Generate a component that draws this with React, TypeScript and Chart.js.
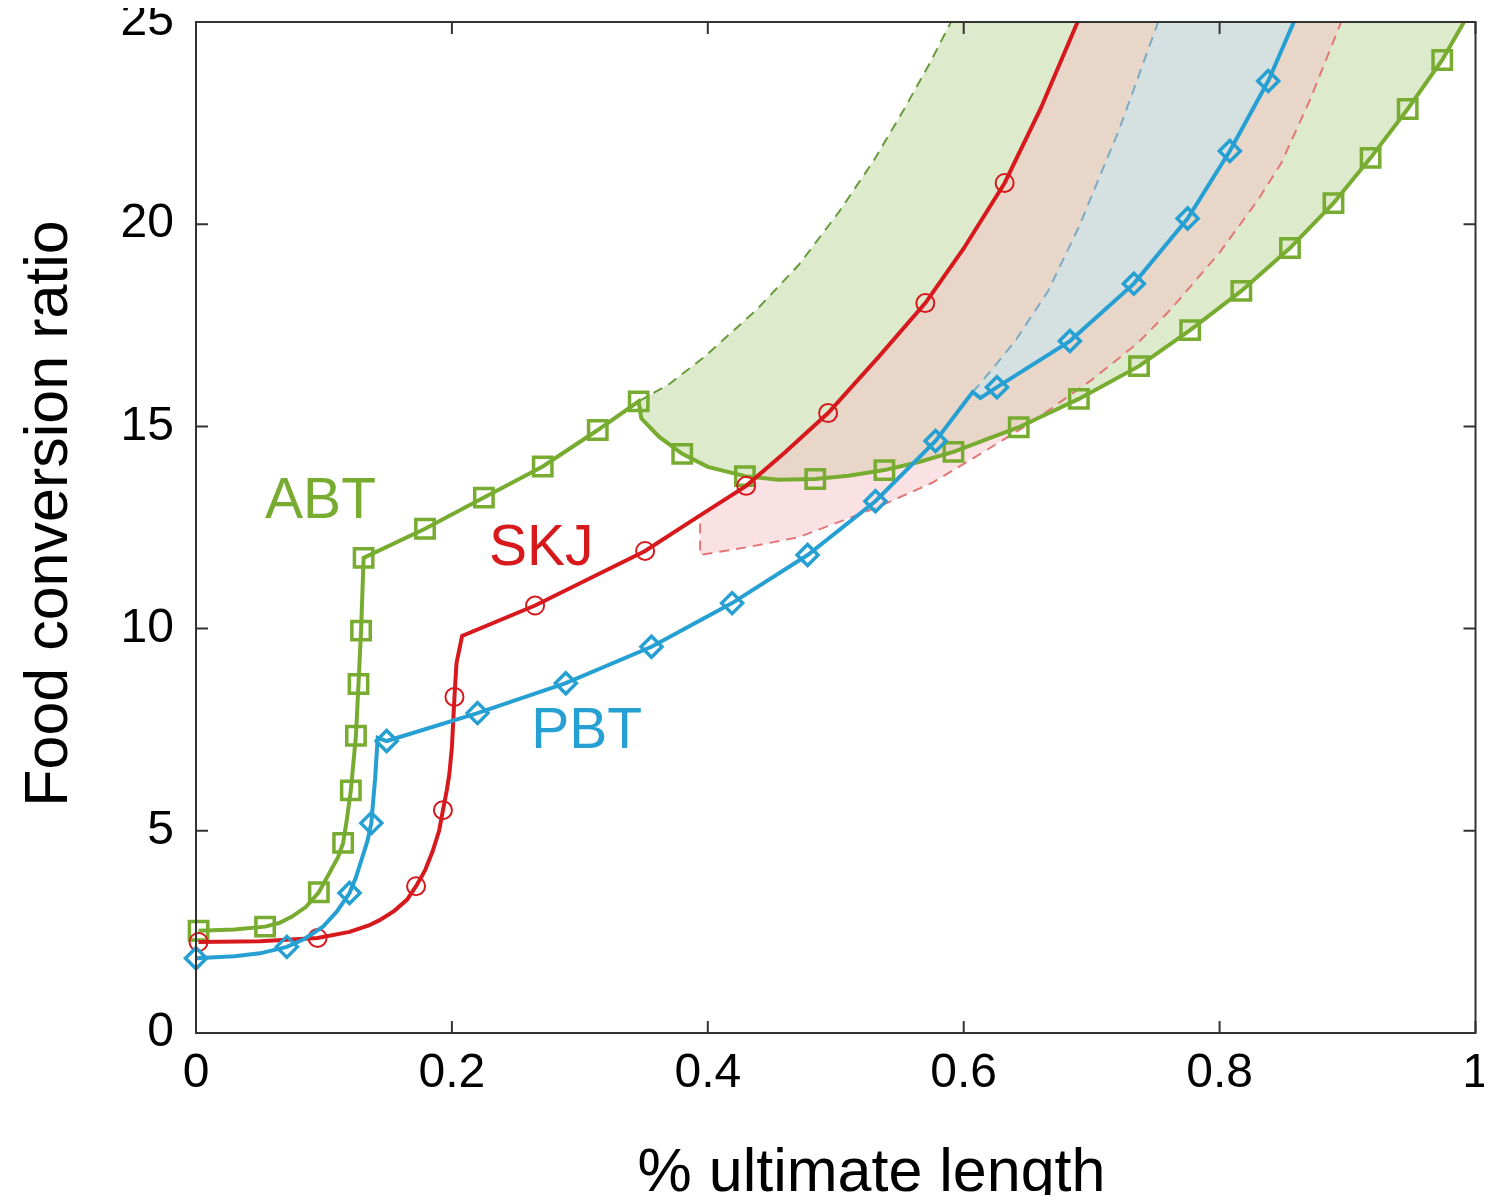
import React, { useEffect, useRef } from 'react';
import { Chart, registerables } from 'chart.js';

Chart.register(...registerables);

// ---------- data ----------
const xTickValues = [0, 0.2, 0.4, 0.6, 0.8, 1];
const xTickLabels = ['0', '0.2', '0.4', '0.6', '0.8', '1'];
const yTickValues = [0, 5, 10, 15, 20, 25];
const yTickLabels = ['0', '5', '10', '15', '20', '25'];

// ABT (green, squares); abtMark = 1 where a marker is drawn
const abtX = [0.002, 0.03, 0.054, 0.065, 0.075, 0.086, 0.096, 0.105, 0.111, 0.115, 0.118, 0.121, 0.125, 0.127, 0.129, 0.131, 0.179, 0.225, 0.271, 0.314, 0.346, 0.348, 0.362, 0.38, 0.4, 0.429, 0.455, 0.484, 0.51, 0.538, 0.565, 0.592, 0.643, 0.69, 0.737, 0.777, 0.817, 0.855, 0.889, 0.918, 0.947, 0.974, 0.991];
const abtY = [2.53, 2.56, 2.63, 2.72, 2.88, 3.12, 3.48, 4.0, 4.35, 4.7, 5.3, 6.0, 7.35, 8.63, 9.95, 11.75, 12.47, 13.24, 14.01, 14.91, 15.62, 15.2, 14.74, 14.32, 14.0, 13.77, 13.68, 13.7, 13.78, 13.92, 14.12, 14.37, 14.98, 15.68, 16.49, 17.38, 18.35, 19.41, 20.52, 21.64, 22.85, 24.06, 25];
const abtMark = [1, 0, 1, 0, 0, 0, 1, 0, 0, 1, 0, 1, 1, 1, 1, 1, 1, 1, 1, 1, 1, 0, 0, 1, 0, 1, 0, 1, 0, 1, 0, 1, 1, 1, 1, 1, 1, 1, 1, 1, 1, 1, 0];

// SKJ (red, circles)
const skjX = [0.002, 0.05, 0.095, 0.12, 0.135, 0.1435, 0.155, 0.165, 0.172, 0.179, 0.185, 0.19, 0.193, 0.196, 0.198, 0.2, 0.202, 0.2036, 0.208, 0.265, 0.351, 0.394, 0.43, 0.46, 0.494, 0.533, 0.57, 0.6, 0.632, 0.66, 0.689];
const skjY = [2.25, 2.27, 2.35, 2.5, 2.66, 2.79, 3.02, 3.3, 3.63, 4.02, 4.5, 5.0, 5.51, 6.0, 6.4, 7.07, 8.31, 9.15, 9.82, 10.57, 11.92, 12.8, 13.53, 14.35, 15.33, 16.7, 18.05, 19.4, 21.02, 22.85, 25];
const skjMark = [1, 0, 1, 0, 0, 0, 0, 0, 1, 0, 0, 0, 1, 0, 0, 0, 1, 0, 0, 1, 1, 0, 1, 0, 1, 0, 1, 0, 1, 0, 0];

// PBT (blue, diamonds)
const pbtX = [0.0, 0.03, 0.05, 0.071, 0.085, 0.099, 0.11, 0.12, 0.125, 0.13, 0.134, 0.137, 0.14, 0.142, 0.149, 0.22, 0.289, 0.356, 0.419, 0.478, 0.531, 0.578, 0.607, 0.613, 0.626, 0.683, 0.733, 0.775, 0.808, 0.838, 0.858];
const pbtY = [1.85, 1.9, 1.97, 2.13, 2.33, 2.62, 3.0, 3.46, 3.85, 4.35, 4.75, 5.19, 6.3, 7.3, 7.22, 7.91, 8.65, 9.55, 10.63, 11.82, 13.15, 14.64, 15.85, 15.7, 15.97, 17.11, 18.53, 20.14, 21.81, 23.54, 25];
const pbtMark = [1, 0, 0, 1, 0, 0, 0, 1, 0, 0, 0, 1, 0, 0, 1, 1, 1, 1, 1, 1, 1, 1, 0, 0, 1, 1, 1, 1, 1, 1, 0];

// dashed band edges
const abtEdgeX = [0.346, 0.37, 0.397, 0.438, 0.471, 0.502, 0.53, 0.553, 0.574, 0.59];
const abtEdgeY = [15.62, 16.05, 16.71, 17.88, 18.99, 20.28, 21.59, 22.82, 24.01, 25];
const skjEdgeX = [0.394, 0.394, 0.432, 0.471, 0.531, 0.575, 0.614, 0.653, 0.7, 0.736, 0.762, 0.8, 0.83, 0.848, 0.871, 0.895];
const skjEdgeY = [12.6, 11.82, 12.02, 12.26, 12.98, 13.6, 14.34, 15.1, 16.15, 17.06, 17.9, 19.3, 20.6, 21.5, 23.1, 25];
const pbtEdgeX = [0.607, 0.614, 0.64, 0.666, 0.69, 0.7, 0.721, 0.752];
const pbtEdgeY = [15.85, 16.1, 17.1, 18.35, 19.93, 20.7, 22.3, 25];

// band starts (x where each band begins on its species curve)
const abtBandStart = 0.346;
const skjBandStart = 0.394;
const pbtBandStart = 0.607;

// in-plot labels
const labelNames = ['ABT', 'SKJ', 'PBT'];
const labelX = [0.054, 0.229, 0.262];
const labelY = [12.73, 11.57, 7.05];

const xTitle = '% ultimate length';
const yTitle = 'Food conversion ratio';

// ---------- styles ----------
const GREEN = 'rgb(119,172,48)';
const RED = 'rgb(215,25,30)';
const BLUE = 'rgb(38,160,210)';
const labelColors = [GREEN, RED, BLUE];
const FONT = '"Liberation Sans", Arial, Helvetica, sans-serif';
const AXIS = '#333333';

type P = { x: number; y: number };
const pts = (xs: number[], ys: number[]): P[] => xs.map((x, i) => ({ x, y: ys[i] }));

export default function App() {
  const ref = useRef<HTMLCanvasElement | null>(null);

  useEffect(() => {
    const canvas = ref.current;
    if (!canvas) return;

    const abt = pts(abtX, abtY);
    const skj = pts(skjX, skjY);
    const pbt = pts(pbtX, pbtY);
    const top = 25;

    // band boundaries built from the arrays above
    const greenUpper = [...pts(abtEdgeX, abtEdgeY), { x: abtX[abtX.length - 1], y: top }];
    const greenLower = abt.filter((p) => p.x >= abtBandStart);
    const redUpper = [...skj.filter((p) => p.x >= skjBandStart), { x: skjEdgeX[skjEdgeX.length - 1], y: top }];
    const redLower = pts(skjEdgeX, skjEdgeY);
    const blueUpper = [...pts(pbtEdgeX, pbtEdgeY), { x: pbtX[pbtX.length - 1], y: top }];
    const blueLower = pbt.filter((p) => p.x >= pbtBandStart);

    const markRadius = (marks: number[], r: number) => (ctx: any) => (marks[ctx.dataIndex] ? r : 0);

    const invisible = {
      borderColor: 'rgba(0,0,0,0)',
      borderWidth: 1,
      pointRadius: 0,
      fill: false,
      tension: 0,
    };

    const framePlugin = {
      id: 'frame',
      afterDatasetsDraw(chart: any) {
        const { ctx, chartArea: a, scales } = chart;
        ctx.save();
        ctx.strokeStyle = AXIS;
        ctx.lineWidth = 2;
        ctx.strokeRect(a.left, a.top, a.right - a.left, a.bottom - a.top);
        const tl = 12;
        ctx.beginPath();
        xTickValues.forEach((v) => {
          const px = scales.x.getPixelForValue(v);
          ctx.moveTo(px, a.bottom);
          ctx.lineTo(px, a.bottom - tl);
          ctx.moveTo(px, a.top);
          ctx.lineTo(px, a.top + tl);
        });
        yTickValues.forEach((v) => {
          const py = scales.y.getPixelForValue(v);
          ctx.moveTo(a.left, py);
          ctx.lineTo(a.left + tl, py);
          ctx.moveTo(a.right, py);
          ctx.lineTo(a.right - tl, py);
        });
        ctx.stroke();
        ctx.restore();
      },
      afterDraw(chart: any) {
        const { ctx, scales } = chart;
        ctx.save();
        // in-plot labels
        ctx.font = `57px ${FONT}`;
        ctx.textAlign = 'left';
        ctx.textBaseline = 'alphabetic';
        labelNames.forEach((t, i) => {
          ctx.fillStyle = labelColors[i];
          ctx.fillText(t, scales.x.getPixelForValue(labelX[i]), scales.y.getPixelForValue(labelY[i]));
        });
        // axis titles
        ctx.fillStyle = '#000';
        ctx.font = `61px ${FONT}`;
        ctx.textAlign = 'center';
        ctx.fillText(xTitle, 863.5, 1191);
        ctx.translate(59, 513.5);
        ctx.rotate(-Math.PI / 2);
        ctx.fillText(yTitle, 0, 0);
        ctx.restore();
      },
    };

    const chart = new Chart(canvas, {
      type: 'line',
      data: {
        datasets: [
          // 0 PBT
          {
            data: pbt,
            borderColor: BLUE,
            borderWidth: 4,
            tension: 0,
            fill: false,
            clip: false,
            pointStyle: 'rectRot',
            pointRadius: markRadius(pbtMark, 10.5),
            pointBorderColor: BLUE,
            pointBackgroundColor: 'rgba(0,0,0,0)',
            pointBorderWidth: 3.5,
          },
          // 1 SKJ
          {
            data: skj,
            borderColor: RED,
            borderWidth: 4,
            tension: 0,
            fill: false,
            clip: false,
            pointStyle: 'circle',
            pointRadius: markRadius(skjMark, 9),
            pointBorderColor: RED,
            pointBackgroundColor: 'rgba(0,0,0,0)',
            pointBorderWidth: 2,
          },
          // 2 ABT
          {
            data: abt,
            borderColor: GREEN,
            borderWidth: 4,
            tension: 0,
            fill: false,
            clip: false,
            pointStyle: 'rect',
            pointRadius: markRadius(abtMark, 13),
            pointBorderColor: GREEN,
            pointBackgroundColor: 'rgba(0,0,0,0)',
            pointBorderWidth: 3.5,
          },
          // 3 blue dashed edge + blue band (filled to 4)
          {
            data: blueUpper,
            borderColor: 'rgb(125,170,195)',
            borderWidth: 2,
            borderDash: [10, 7],
            pointRadius: 0,
            tension: 0,
            backgroundColor: 'rgba(194,234,248,0.5)',
            fill: 4,
          },
          // 4 PBT band boundary
          { data: blueLower, ...invisible },
          // 5 red dashed edge + red band (filled to 6)
          {
            data: redLower,
            borderColor: 'rgb(225,120,120)',
            borderWidth: 2,
            borderDash: [10, 7],
            pointRadius: 0,
            tension: 0,
            backgroundColor: 'rgba(245,195,199,0.48)',
            fill: 6,
          },
          // 6 SKJ band boundary
          { data: redUpper, ...invisible },
          // 7 green dashed edge + green band (filled to 8)
          {
            data: greenUpper,
            borderColor: 'rgb(105,155,60)',
            borderWidth: 2,
            borderDash: [10, 7],
            pointRadius: 0,
            tension: 0,
            backgroundColor: 'rgba(119,172,48,0.25)',
            fill: 8,
          },
          // 8 ABT band boundary
          { data: greenLower, ...invisible },
        ] as any,
      },
      options: {
        responsive: true,
        maintainAspectRatio: false,
        animation: false,
        layout: { padding: { top: 22, right: 14, left: 0, bottom: 0 } },
        plugins: {
          legend: { display: false },
          tooltip: { enabled: false },
          filler: { drawTime: 'beforeDatasetsDraw' },
        } as any,
        scales: {
          x: {
            type: 'linear',
            min: 0,
            max: 1,
            grid: { display: false },
            border: { display: false },
            afterBuildTicks: (s: any) => {
              s.ticks = xTickValues.map((v) => ({ value: v }));
            },
            afterFit: (s: any) => {
              s.height = 170;
              s.paddingLeft = 0;
              s.paddingRight = 0;
            },
            ticks: {
              autoSkip: false,
              maxRotation: 0,
              padding: 4,
              color: '#000',
              font: { family: FONT, size: 48 },
              callback: (_v: any, i: number) => xTickLabels[i],
            },
          },
          y: {
            type: 'linear',
            min: 0,
            max: 25,
            grid: { display: false },
            border: { display: false },
            afterBuildTicks: (s: any) => {
              s.ticks = yTickValues.map((v) => ({ value: v }));
            },
            afterFit: (s: any) => {
              s.width = 188;
              s.paddingTop = 0;
              s.paddingBottom = 0;
            },
            ticks: {
              autoSkip: false,
              padding: 14,
              color: '#000',
              font: { family: FONT, size: 48 },
              callback: (_v: any, i: number) => yTickLabels[i],
            },
          },
        } as any,
      },
      plugins: [framePlugin],
    });

    return () => chart.destroy();
  }, []);

  return (
    <div style={{ width: 1484, height: 1203, position: 'relative', marginTop: -8, marginBottom: -8 }}>
      <canvas ref={ref} />
    </div>
  );
}
